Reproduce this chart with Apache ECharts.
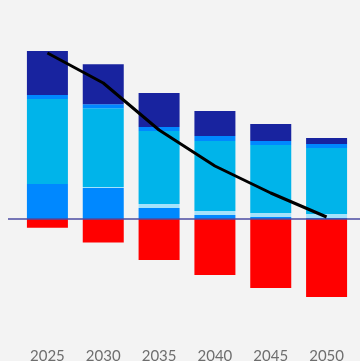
<!DOCTYPE html>
<html>
<head>
<meta charset="utf-8">
<script src="https://cdn.jsdelivr.net/npm/echarts@6/dist/echarts.min.js"></script>
<style>
  html, body { margin: 0; padding: 0; background: #f3f3f3; }
  #chart { width: 360px; height: 361px; }
</style>
</head>
<body>
<div id="chart"></div>
<script>
// Years on the category axis
const years = ['2025', '2030', '2035', '2040', '2045', '2050'];

// Positive components, stacked bottom to top
const baseBlue  = [8.75, 7.75, 2.75, 1.0, 0.5, 0.25];
const paleCyan  = [0.0, 0.25, 1.0, 1.0, 1.0, 1.0];
const cyan      = [21.25, 19.7, 18.25, 17.5, 17.0, 16.5];
const thinBlue  = [1.0, 1.0, 1.0, 1.25, 1.0, 1.0];
const navy      = [11.0, 10.0, 8.5, 6.25, 4.25, 1.5];

// Negative component (removals)
const removals  = [-2.2, -5.9, -10.25, -14.0, -17.25, -19.5];

// Net total line
const net       = [41.5, 34.0, 22.25, 13.25, 6.5, 0.5];

const chart = echarts.init(document.getElementById('chart'), null, { renderer: 'canvas' });

function barSeries(name, data, color) {
  return {
    name: name,
    type: 'bar',
    stack: 'total',
    data: data,
    barWidth: 41,
    itemStyle: { color: color },
    emphasis: { disabled: true },
    z: 2
  };
}

chart.setOption({
  backgroundColor: '#f3f3f3',
  animation: false,
  grid: {
    left: 19.5, right: 5.5, top: 39, bottom: 42,
    containLabel: false,
    outerBoundsMode: 'none'
  },
  xAxis: {
    type: 'category',
    data: years,
    axisLine: { show: false, onZero: false },
    axisTick: { show: false },
    splitLine: { show: false },
    axisLabel: {
      color: '#6e6e6e',
      fontSize: 15,
      fontFamily: 'Lato',
      margin: 30
    }
  },
  yAxis: {
    type: 'value',
    min: -25,
    max: 45,
    show: false
  },
  series: [
    barSeries('baseBlue', baseBlue, '#0088ff'),
    barSeries('paleCyan', paleCyan, '#a4e2fb'),
    barSeries('cyan', cyan, '#00b4ea'),
    barSeries('thinBlue', thinBlue, '#0088ff'),
    barSeries('navy', navy, '#18239f'),
    barSeries('removals', removals, '#ff0000'),
    {
      name: 'net',
      type: 'line',
      data: net,
      symbol: 'none',
      lineStyle: { color: '#000000', width: 3 },
      z: 5
    }
  ]
});

// Zero baseline spanning the plot width
const y0 = chart.convertToPixel({ yAxisIndex: 0 }, 0);
chart.setOption({
  graphic: [{
    type: 'line',
    shape: { x1: 8, y1: y0, x2: 360, y2: y0 },
    style: { stroke: '#4b4ba2', lineWidth: 1.5 },
    z: 4
  }]
});
</script>
</body>
</html>
